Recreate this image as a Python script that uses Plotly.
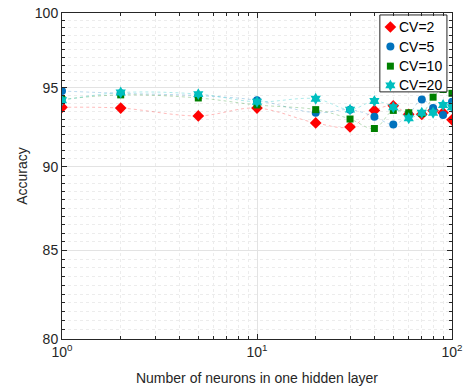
import plotly.graph_objects as go
import numpy as np

neurons = [1, 2, 5, 10, 20, 30, 40, 50, 60, 70, 80, 90, 100]
cv2 = [93.75, 93.7, 93.2, 93.7, 92.75, 92.5, 93.55, 93.85, 93.3, 93.3, 93.55, 93.4, 92.95]
cv5 = [94.8, 94.65, 94.5, 94.2, 93.4, 93.6, 93.15, 92.65, 93.3, 94.25, 93.7, 93.25, 94.1]
cv10 = [94.25, 94.55, 94.35, 93.9, 93.6, 93.0, 92.4, 93.55, 93.4, 93.35, 94.4, 94.9, 94.65]
cv20 = [94.2, 94.7, 94.6, 94.1, 94.3, 93.6, 94.15, 93.75, 93.05, 93.4, 93.4, 93.9, 93.75]
labels = ["CV=2", "CV=5", "CV=10", "CV=20"]

series = [
    (labels[0], cv2, "#FF0000", "rgba(255,0,0,0.28)", "diamond", 9),
    (labels[1], cv5, "#0072BD", "rgba(0,114,189,0.28)", "circle", 8),
    (labels[2], cv10, "#008000", "rgba(0,128,0,0.28)", "square", 7),
    (labels[3], cv20, "#00BFBF", "rgba(0,191,191,0.32)", "hexagram", 9),
]

FONT = "Liberation Sans, Arial"
fig = go.Figure()
for name, vals, mc, lc, sym, sz in series:
    fig.add_trace(go.Scatter(x=neurons, y=vals, mode="lines", showlegend=False,
                             line=dict(color=lc, width=1, dash="dot", shape="spline", smoothing=1.0),
                             hoverinfo="skip"))
for name, vals, mc, lc, sym, sz in series:
    fig.add_trace(go.Scatter(x=neurons, y=vals, mode="markers", name=name, showlegend=False,
                             marker=dict(symbol=sym, size=sz, color=mc, line=dict(width=0))))

# legend box drawn on an overlay axis (0..1 coordinates over the plot area)
bx0, bx1, by0, by1 = 0.815, 0.987, 0.758, 0.994
fig.add_trace(go.Scatter(x=[bx0, bx1, bx1, bx0, bx0], y=[by0, by0, by1, by1, by0],
                         mode="lines", fill="toself", fillcolor="white",
                         line=dict(color="#262626", width=1), showlegend=False,
                         hoverinfo="skip", xaxis="x2", yaxis="y2"))
row_y = [0.957, 0.897, 0.837, 0.778]
for (name, vals, mc, lc, sym, sz), ry in zip(series, row_y):
    fig.add_trace(go.Scatter(x=[0.842], y=[ry], mode="markers", showlegend=False,
                             marker=dict(symbol=sym, size=sz, color=mc, line=dict(width=0)),
                             hoverinfo="skip", xaxis="x2", yaxis="y2"))
    fig.add_annotation(x=0.860, y=ry, xref="x2", yref="y2", text=name, showarrow=False,
                       xanchor="left", yanchor="middle",
                       font=dict(family=FONT, size=14, color="#000000"))

xminor = [v * d for d in (1, 10) for v in range(2, 10)]
yminor = [v for v in np.arange(80, 100.01, 0.5) if v % 5 != 0]

axis_common = dict(showline=True, linecolor="#262626", linewidth=1, mirror="ticks",
                   ticks="inside", ticklen=5, tickcolor="#262626", automargin=False,
                   tickfont=dict(family=FONT, size=14, color="#262626"),
                   showgrid=True, gridcolor="#e3e3e3", gridwidth=1, zeroline=False)

fig.update_xaxes(type="log", range=[0, 2], tickvals=[1, 10, 100],
                 ticktext=["10<sup>0</sup>", "10<sup>1</sup>", "10<sup>2</sup>"],
                 minor=dict(tickvals=xminor, ticks="inside", ticklen=3, tickcolor="#262626",
                            showgrid=True, gridcolor="#ececec", griddash="dot", gridwidth=1),
                 title=dict(text="Number of neurons in one hidden layer",
                            font=dict(family=FONT, size=14, color="#262626"),
                            standoff=14),
                 **axis_common)
fig.update_yaxes(type="log", range=[np.log10(80), 2], tickvals=[80, 85, 90, 95, 100],
                 ticktext=["80", "85", "90", "95", "100"],
                 minor=dict(tickvals=yminor, ticks="inside", ticklen=3, tickcolor="#262626",
                            showgrid=True, gridcolor="#ececec", griddash="dot", gridwidth=1),
                 title=dict(text="Accuracy",
                            font=dict(family=FONT, size=14, color="#262626"),
                            standoff=3),
                 **axis_common)

fig.update_layout(width=466, height=390, margin=dict(l=62, r=14, t=13, b=51),
                  plot_bgcolor="white", paper_bgcolor="white", showlegend=False,
                  xaxis2=dict(overlaying="x", range=[0, 1], visible=False, fixedrange=True),
                  yaxis2=dict(overlaying="y", range=[0, 1], visible=False, fixedrange=True))

fig.write_html("out.html")
